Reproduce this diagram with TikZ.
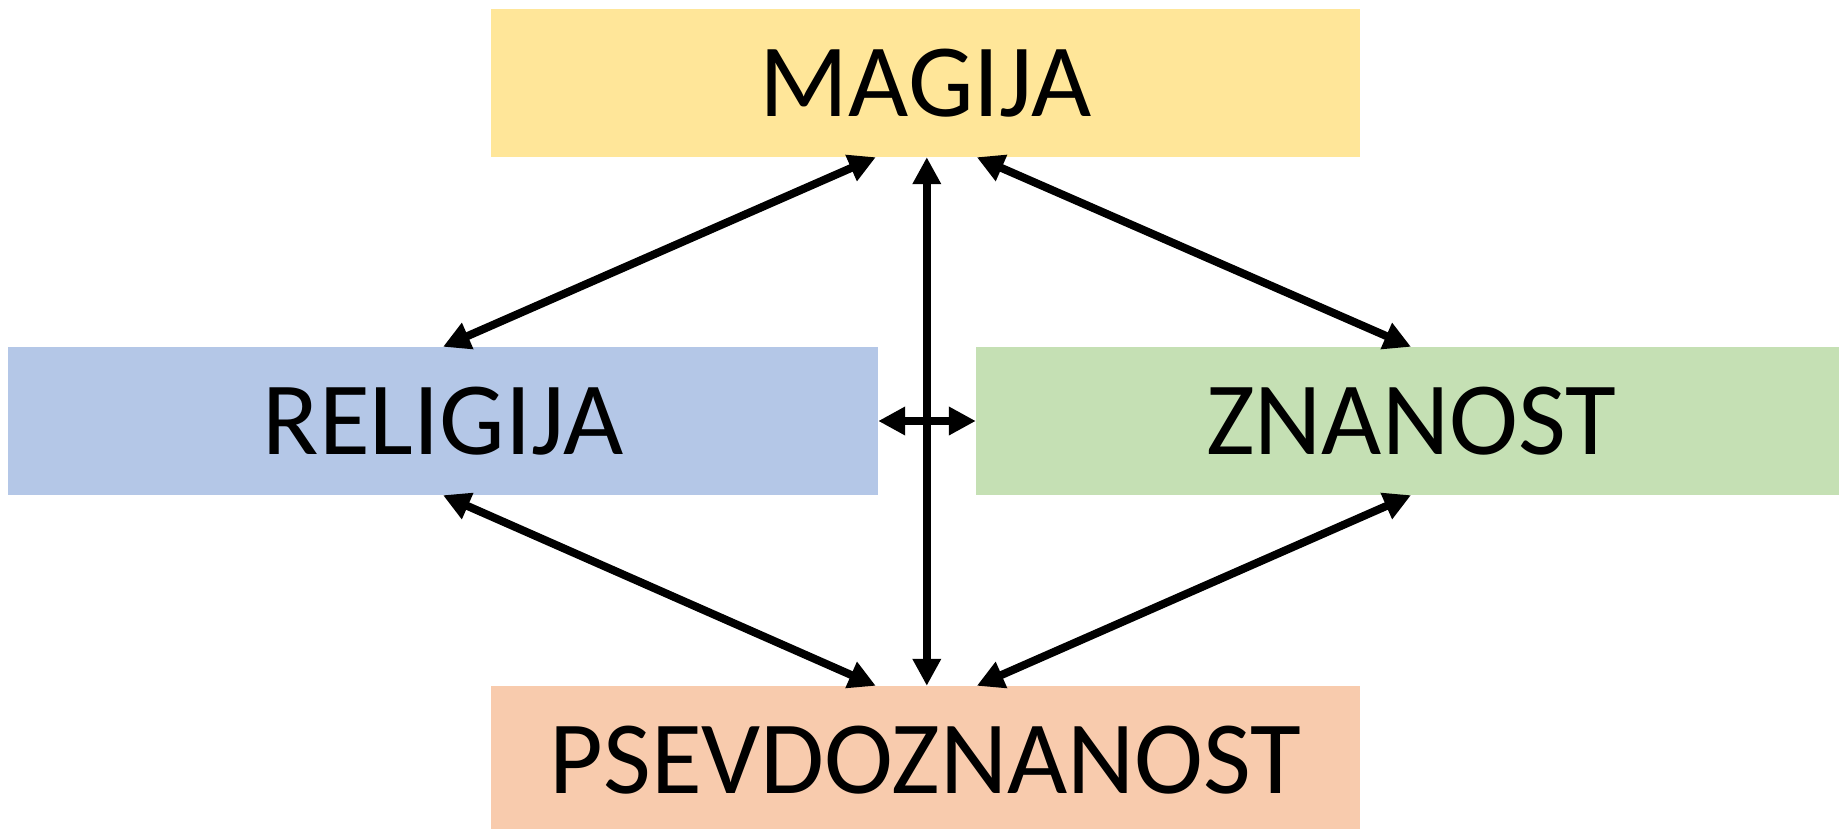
\documentclass[tikz,border=0pt]{standalone}
\usepackage{fontspec}
\setmainfont{Carlito}
\usetikzlibrary{arrows.meta,calc}
\definecolor{cmag}{HTML}{FFE699}
\definecolor{crel}{HTML}{B4C7E7}
\definecolor{czna}{HTML}{C5E0B4}
\definecolor{cpsv}{HTML}{F8CBAD}
\tikzset{
  box/.style={rectangle, draw=none, minimum width=870pt, minimum height=148pt, inner sep=0pt,
    font=\fontsize{104}{120}\selectfont},
  link/.style={line width=8pt, {Triangle[length=27pt,width=27pt]}-{Triangle[length=27pt,width=27pt]}}
}
\begin{document}
\begin{tikzpicture}[x=1pt,y=-1pt]
\useasboundingbox (0,0) rectangle (1839,829);
\node[box, fill=cmag, minimum width=869pt] (mag) at (925.5,83) {MAGIJA};
\node[box, fill=crel] (rel) at (443,421) {RELIGIJA};
\node[box, fill=czna] (zna) at (1411,421) {ZNANOST};
\node[box, fill=cpsv, minimum width=869pt] (psv) at (925.5,760) {PSEVDOZNANOST};
% anchor points
\coordinate (magL) at ($(mag.south west)+(385,0)$);
\coordinate (magM) at ($(mag.south west)+(436,0)$);
\coordinate (magR) at ($(mag.south west)+(486,0)$);
\coordinate (psvL) at ($(psv.north west)+(385,0)$);
\coordinate (psvM) at ($(psv.north west)+(436,0)$);
\coordinate (psvR) at ($(psv.north west)+(486,0)$);
\draw[link] (rel.north) -- (magL);
\draw[link] (magR) -- (zna.north);
\draw[link] (rel.south) -- (psvL);
\draw[link] (zna.south) -- (psvR);
\draw[link] (psvM) -- (magM);
\draw[link] (rel.east) -- (zna.west);
\end{tikzpicture}
\end{document}
